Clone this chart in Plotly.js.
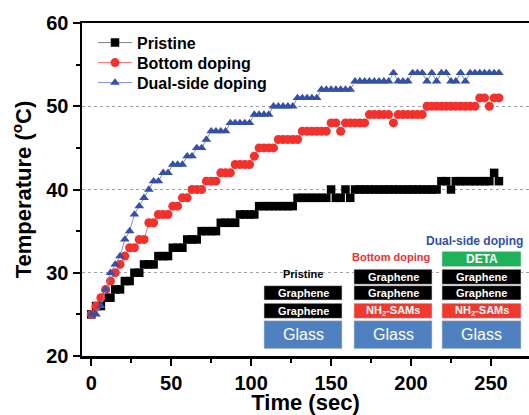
<!DOCTYPE html>
<html>
<head>
<meta charset="utf-8">
<script src="https://cdn.plot.ly/plotly-3.0.1.min.js"></script>
<style>
  html, body { margin: 0; padding: 0; background: #fff; }
  #chart { width: 529px; height: 415px; }
</style>
</head>
<body>
<div id="chart"></div>
<script>
// ---------------- data ----------------
const timeSec = [0,3,6,9,12,15,18,21,24,27,30,33,36,39,42,45,48,51,54,57,60,63,66,69,72,75,78,81,84,87,90,93,96,99,102,105,108,111,114,117,120,123,126,129,132,135,138,141,144,147,150,153,156,159,162,165,168,171,174,177,180,183,186,189,192,195,198,201,204,207,210,213,216,219,222,225,228,231,234,237,240,243,246,249,252,255];

const pristine = [25,26,26,27,27,28,28,29,29,30,30,31,31,31,32,32,32,33,33,33,34,34,34,35,35,35,35,36,36,36,36,37,37,37,37,
  38,38,38,38,38,38,38,38, 39,39,39,39,39,39,39, 40,39,39,40,39,
  40,40,40,40,40,40,40,40,40,40,40,40,40,40,40,40,40,40, 41,41,40, 41,41,41,41,41,41,41,41, 42,41];

const bottomDoping = [25,26,27,28,29,30,31,32,33,33,34,34,36,36,37,37,37,38,38,39,39,40,40,40,41,41,41,42,42,42,43,43,43,43,44,45,45,45,45,
  46,46,46,46,46, 47,47,47,47,47,47, 48,48,47, 48,48,48,48,48, 49,49,49,49,49, 48, 49,49,49,49,49,49,
  50,50,50,50,50,50,50,50,50,50,50, 51,51,50,51,51];

const dualSideDoping = [25,25,26,28,30,31,32,34,35,37,38,39,40,41,41,42,42,43,43,43,44,44,45,45,46,47,47,47,47,
  48,48,48,48,48, 49,49,49,49, 50,50,50,50,50, 51,51,51,51,51, 52,52,52,52,52,52,52, 53,53,53,53,53,53,53,53,
  54,53,53,53,54,54,54,53,54,53,54,54,53,53,54,53, 54,54,54,54,54,54,54];

const seriesNames = ['Pristine', 'Bottom doping', 'Dual-side doping'];
const xTickVals = [0, 50, 100, 150, 200, 250];
const yTickVals = [20, 30, 40, 50, 60];

// ---------------- layout geometry ----------------
const W = 529, H = 415;
const M = {l: 82, r: 0, t: 23, b: 59};
const PW = W - M.l - M.r, PH = H - M.t - M.b;
const px = v => (v - M.l) / PW;          // pixel -> paper x
const py = v => (M.t + PH - v) / PH;     // pixel -> paper y

const FONT = 'Arial, "Liberation Sans", sans-serif';

const traces = [
  {x: timeSec, y: pristine, name: seriesNames[0], type: 'scatter', mode: 'lines+markers', legend: 'legend',
   line: {color: '#808080', width: 1}, marker: {symbol: 'square', size: 8.5, color: '#000000', line: {width: 0}}},
  {x: timeSec, y: bottomDoping, name: seriesNames[1], type: 'scatter', mode: 'lines+markers', legend: 'legend2',
   line: {color: '#ff6a6a', width: 1}, marker: {symbol: 'circle', size: 9, color: '#f2302c', line: {width: 0}}},
  {x: timeSec, y: dualSideDoping, name: seriesNames[2], type: 'scatter', mode: 'lines+markers', legend: 'legend3',
   line: {color: '#7d8cd6', width: 1}, marker: {symbol: 'triangle-up', size: 8.5, color: '#3450a8', line: {width: 0}}}
];

// inset schematic (pixel boxes)
const cols = [[264, 342], [354, 432], [442, 521]];
const rows = {deta: [251.5, 266.5], top: [269.3, 284.3], mid: [285.7, 300], low: [303.3, 318.3], glass: [320.7, 348.7]};
const blocks = [
  [0, 'mid', '#000000', 'Graphene'], [0, 'low', '#000000', 'Graphene'], [0, 'glass', '#4f81c0', 'Glass'],
  [1, 'top', '#000000', 'Graphene'], [1, 'mid', '#000000', 'Graphene'], [1, 'low', '#f0392e', 'NH<sub>2</sub>-SAMs'], [1, 'glass', '#4f81c0', 'Glass'],
  [2, 'deta', '#1eb25b', 'DETA'], [2, 'top', '#000000', 'Graphene'], [2, 'mid', '#000000', 'Graphene'], [2, 'low', '#f0392e', 'NH<sub>2</sub>-SAMs'], [2, 'glass', '#4f81c0', 'Glass']
];
const shapes = [], annotations = [];
blocks.forEach(([c, r, fill, label]) => {
  const [x0, x1] = cols[c], [y0, y1] = rows[r];
  shapes.push({type: 'rect', xref: 'paper', yref: 'paper', x0: px(x0), x1: px(x1), y0: py(y1), y1: py(y0),
    fillcolor: fill, line: {color: '#d0d0d0', width: 0.6}, layer: 'above'});
  const isGlass = r === 'glass';
  const txt = isGlass ? label : '<b>' + label + '</b>';
  annotations.push({xref: 'paper', yref: 'paper', x: px((x0 + x1) / 2), y: py((y0 + y1) / 2), text: txt,
    showarrow: false, xanchor: 'center', yanchor: 'middle',
    font: {family: FONT, size: isGlass ? 16 : (r === 'deta' ? 12 : 11), color: '#ffffff'}});
});
annotations.push({xref: 'paper', yref: 'paper', x: px(303), y: py(274), text: '<b>Pristine</b>', showarrow: false,
  xanchor: 'center', yanchor: 'middle', font: {family: FONT, size: 11, color: '#000'}});
annotations.push({xref: 'paper', yref: 'paper', x: px(391), y: py(257), text: '<b>Bottom doping</b>', showarrow: false,
  xanchor: 'center', yanchor: 'middle', font: {family: FONT, size: 11, color: '#f0302c'}});
annotations.push({xref: 'paper', yref: 'paper', x: px(474), y: py(241), text: '<b>Dual-side doping</b>', showarrow: false,
  xanchor: 'center', yanchor: 'middle', font: {family: FONT, size: 12, color: '#2f4fae'}});

const legendBase = (rowY) => ({
  x: px(93), y: py(rowY), xanchor: 'left', yanchor: 'middle', bgcolor: 'rgba(0,0,0,0)',
  itemwidth: 34, font: {family: FONT, size: 16, color: '#000', weight: 'bold'}
});

const layout = {
  width: W, height: H,
  margin: M,
  paper_bgcolor: '#ffffff', plot_bgcolor: '#ffffff',
  font: {family: FONT, color: '#000'},
  showlegend: true,
  legend: legendBase(42.7),
  legend2: legendBase(62.7),
  legend3: legendBase(82.7),
  xaxis: {
    range: [-5.8, 273.8], tickvals: xTickVals, ticks: 'outside', ticklen: 7, tickwidth: 2, tickcolor: '#000',
    minor: {dtick: 25, tick0: 0, ticks: 'outside', ticklen: 4, tickwidth: 2, tickcolor: '#000', showgrid: false},
    showline: true, linewidth: 2.5, linecolor: '#000', mirror: true, showgrid: false, zeroline: false,
    tickfont: {family: FONT, size: 20, color: '#000', weight: 'bold'},
    title: {text: '<b>Time (sec)</b>', font: {family: FONT, size: 22, color: '#000'}, standoff: 8}
  },
  yaxis: {
    range: [20, 60], tickvals: yTickVals, ticks: 'outside', ticklen: 7, tickwidth: 2, tickcolor: '#000',
    minor: {dtick: 5, tick0: 0, ticks: 'outside', ticklen: 4, tickwidth: 2, tickcolor: '#000', showgrid: false},
    showline: true, linewidth: 2.5, linecolor: '#000', mirror: false, zeroline: false,
    showgrid: true, gridcolor: '#a0a0a0', gridwidth: 1, griddash: 'dot',
    tickfont: {family: FONT, size: 20, color: '#000', weight: 'bold'},
    title: {text: '<b>Temperature (<sup>o</sup>C)</b>', font: {family: FONT, size: 22, color: '#000'}, standoff: 9}
  },
  shapes: shapes,
  annotations: annotations
};

Plotly.newPlot('chart', traces, layout, {displayModeBar: false, staticPlot: true});
</script>
</body>
</html>
